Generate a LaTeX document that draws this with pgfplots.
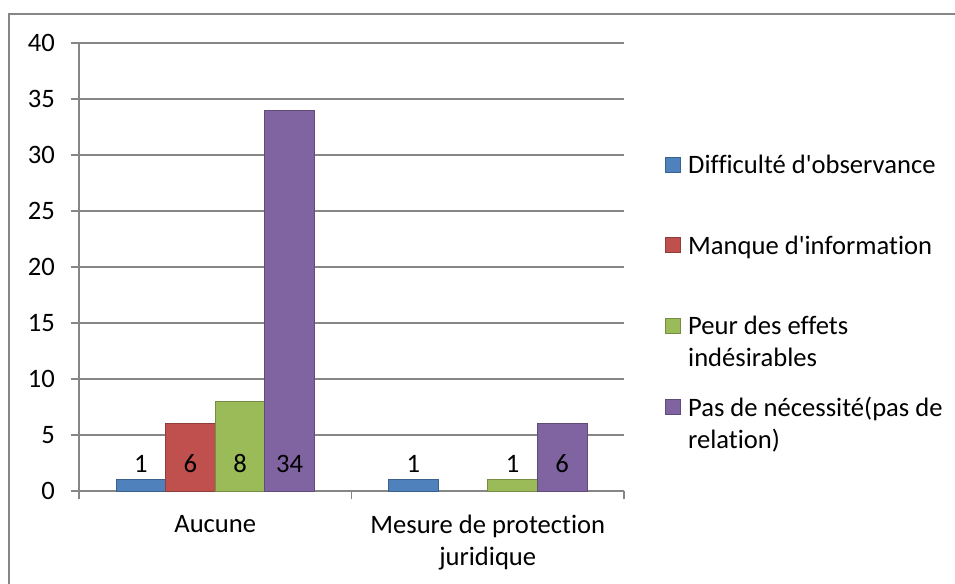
\documentclass[border=0pt]{standalone}
\usepackage{fontspec}
\setmainfont{Carlito}[Ligatures=NoCommon]
\usepackage{pgfplots}
\pgfplotsset{compat=1.18}
\definecolor{cblue}{HTML}{4F81BD}
\definecolor{cred}{HTML}{C0504D}
\definecolor{cgreen}{HTML}{9BBB59}
\definecolor{cpurple}{HTML}{8064A2}
\definecolor{gridc}{HTML}{868686}

\begin{document}
\begin{tikzpicture}
\useasboundingbox (0,0) rectangle (477.5pt,-292pt);
\draw[gridc, line width=0.75pt] (4.5pt,-292pt) -- (4.5pt,-7pt) -- (477.5pt,-7pt);
\begin{axis}[
  at={(39.5pt,-245.5pt)}, anchor=south west,
  scale only axis, width=272.5pt, height=224pt,
  font=\fontsize{13.3}{16}\selectfont,
  /pgf/number format/assume math mode=true,
  xmin=-0.5, xmax=1.5, ymin=0, ymax=40,
  ytick={0,5,...,40},
  yticklabel style={xshift=-4.5pt},
  xtick={0,1},
  xticklabels={Aucune,{Mesure de protection\\juridique}},
  xticklabel style={align=center, yshift=-4.5pt},
  minor xtick={-0.5,0.5,1.5},
  axis x line*=bottom, axis y line*=left,
  ymajorgrids, grid style={gridc, line width=0.75pt},
  axis line style={gridc, line width=0.75pt},
  tick style={gridc, line width=0.75pt},
  major x tick style={draw=none},
  tick align=outside, major tick length=4pt, minor tick length=4pt,
  legend image code/.code={\draw[#1] (0pt,0.75pt) rectangle (7.5pt,8.25pt); \path (11pt,0pt);},
  legend style={at={(axis description cs:1.0752,0.750)}, anchor=north west,
    draw=none, fill=none, inner sep=0pt, row sep=11pt,
    nodes={anchor=base west, inner sep=0pt, text depth=20pt, font=\fontsize{13.3}{16}\selectfont}},
]
\addplot[ybar, bar width=0.182, bar shift=-0.273, fill=cblue, draw=cblue!75!black] coordinates {(0,1) (1,1)};
\addplot[ybar, bar width=0.182, bar shift=-0.091, fill=cred, draw=cred!75!black] coordinates {(0,6)};
\addplot[ybar, bar width=0.182, bar shift=0.091, fill=cgreen, draw=cgreen!75!black] coordinates {(0,8) (1,1)};
\addplot[ybar, bar width=0.182, bar shift=0.273, fill=cpurple, draw=cpurple!75!black] coordinates {(0,34) (1,6)};
\legend{{\parbox[t]{140pt}{Difficulté d\textquotesingle observance}},
  {\parbox[t]{140pt}{Manque d\textquotesingle information}},
  {\parbox[t]{140pt}{Peur des effets\\indésirables}},
  {\parbox[t]{140pt}{Pas de nécessité(pas de\\relation)}}}
% value labels near the base of each bar (x = category + bar shift)
\pgfplotsset{labelplot/.style={draw=none, mark=none, forget plot,
  nodes near coords, point meta=explicit,
  nodes near coords style={anchor=base, yshift=9.3pt, text=black}}}
\addplot[labelplot] coordinates {(-0.273,0)[1] (0.727,0)[1]};
\addplot[labelplot] coordinates {(-0.091,0)[6]};
\addplot[labelplot] coordinates {(0.091,0)[8] (1.091,0)[1]};
\addplot[labelplot] coordinates {(0.273,0)[34] (1.273,0)[6]};
\end{axis}
\end{tikzpicture}
\end{document}
